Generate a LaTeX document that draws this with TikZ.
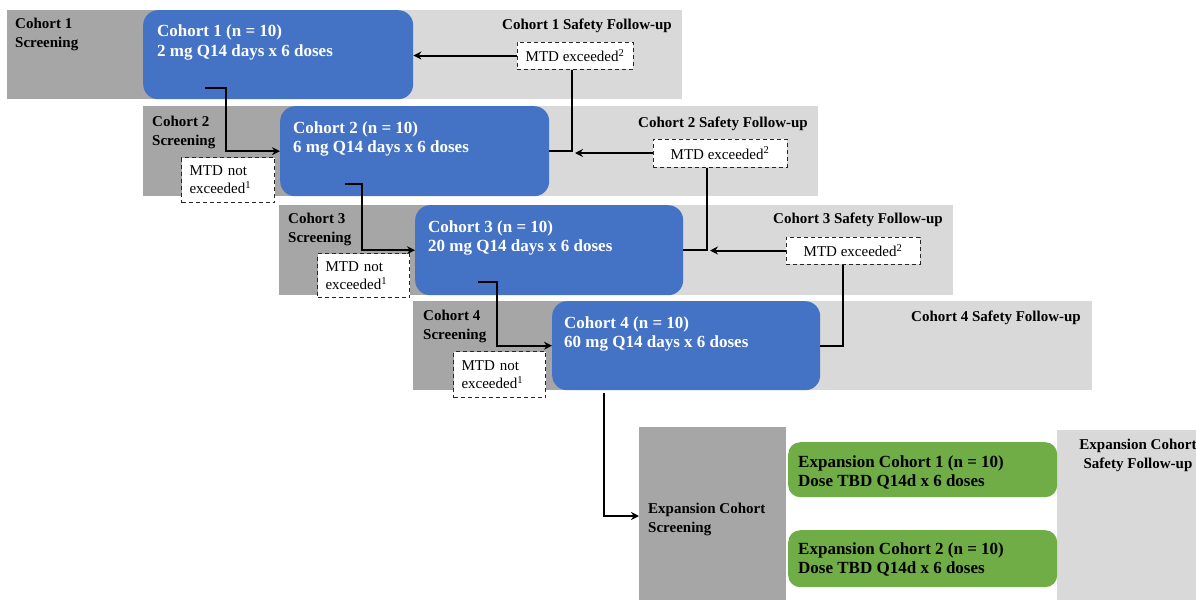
\documentclass[tikz,border=0pt]{standalone}
\usepackage{fontspec}
\setmainfont{Liberation Serif}
\usetikzlibrary{arrows.meta,calc}
\definecolor{cblue}{HTML}{4472C4}
\definecolor{cgreen}{HTML}{70AD47}
\definecolor{cdark}{HTML}{A6A6A6}
\definecolor{clight}{HTML}{D9D9D9}
\begin{document}
\begin{tikzpicture}[x=1pt,y=-1pt,
  darkfill/.style={fill=cdark,draw=none},
  lightfill/.style={fill=clight,draw=none},
  panel/.style={draw=none,anchor=north west,inner sep=0pt},
  bluebox/.style={panel,fill=cblue,rounded corners=15pt},
  greenbox/.style={panel,fill=cgreen,rounded corners=12pt},
  boxtxt/.style={anchor=north west,inner sep=0pt,align=left,font=\fontsize{17}{19.5}\selectfont\bfseries},
  lbl/.style={inner sep=0pt,font=\fontsize{15}{18.5}\selectfont\bfseries},
  mtd/.style={draw=black!85,line width=1pt,dash pattern=on 4pt off 3pt,fill=white,inner sep=0pt,font=\fontsize{15}{18}\selectfont},
  mtdn/.style={mtd,anchor=north west,align=left,inner xsep=8pt},
  wire/.style={line width=2pt},
  conn/.style={line width=2pt,-{Stealth[length=8pt,width=8pt]}}
]
\useasboundingbox (0,0) rectangle (1196,600);
% bands
\fill[darkfill] (7,10) rectangle (278,99);
\fill[lightfill] (278,10) rectangle (682,99);
\fill[darkfill] (143,106) rectangle (414,196);
\fill[lightfill] (414,106) rectangle (818,196);
\fill[darkfill] (279,205) rectangle (549,295);
\fill[lightfill] (549,205) rectangle (953,295);
\fill[darkfill] (413,301) rectangle (686,390);
\fill[lightfill] (686,301) rectangle (1092,390);
\node[panel,fill=cdark,minimum width=147pt,minimum height=173pt] (es) at (639,427) {};
\node[panel,fill=clight,minimum width=139pt,minimum height=170pt] (ef) at (1057,430) {};

% blue boxes
\node[bluebox,minimum width=270pt,minimum height=89pt] (b1) at (143,10) {};
\node[bluebox,minimum width=269pt,minimum height=90pt] (b2) at (280,106) {};
\node[bluebox,minimum width=268pt,minimum height=90pt] (b3) at (415,205) {};
\node[bluebox,minimum width=268pt,minimum height=89pt] (b4) at (552,301) {};
\node[boxtxt,text=white] (t1) at ($(b1.north west)+(14,15)$) {Cohort 1 (n = 10)\\2 mg Q14 days x 6 doses};
\node[boxtxt,text=white] (t2) at ($(b2.north west)+(13,15)$) {Cohort 2 (n = 10)\\6 mg Q14 days x 6 doses};
\node[boxtxt,text=white] (t3) at ($(b3.north west)+(13,15)$) {Cohort 3 (n = 10)\\20 mg Q14 days x 6 doses};
\node[boxtxt,text=white] (t4) at ($(b4.north west)+(12,15)$) {Cohort 4 (n = 10)\\60 mg Q14 days x 6 doses};

% green boxes
\node[greenbox,minimum width=269pt,minimum height=55pt] (g1) at (788,442) {};
\node[greenbox,minimum width=269pt,minimum height=57pt] (g2) at (788,530) {};
\node[boxtxt] (gt1) at ($(g1.north west)+(10,13)$) {Expansion Cohort 1 (n = 10)\\Dose TBD Q14d x 6 doses};
\node[boxtxt] (gt2) at ($(g2.north west)+(10,12)$) {Expansion Cohort 2 (n = 10)\\Dose TBD Q14d x 6 doses};

% screening labels
\node[lbl,anchor=north west,align=left] (s1) at (15,18) {Cohort 1\\Screening};
\node[lbl,anchor=north west,align=left] (s2) at (152,116) {Cohort 2\\Screening};
\node[lbl,anchor=north west,align=left] (s3) at (288,213) {Cohort 3\\Screening};
\node[lbl,anchor=north west,align=left] (s4) at (423,310) {Cohort 4\\Screening};
\node[lbl,anchor=north west,align=left] (s5) at (648,503) {Expansion Cohort\\Screening};

% safety labels
\node[lbl,anchor=base east] (f1) at (672,29) {Cohort 1 Safety Follow-up};
\node[lbl,anchor=base east] (f2) at (808,127) {Cohort 2 Safety Follow-up};
\node[lbl,anchor=base east] (f3) at (943,223) {Cohort 3 Safety Follow-up};
\node[lbl,anchor=base east] (f4) at (1081,321) {Cohort 4 Safety Follow-up};
\node[lbl,anchor=north,align=center] (f5) at (1138,439) {Expansion Cohort\\Safety Follow-up};

% MTD exceeded boxes
\node[mtd,minimum width=116pt,minimum height=27pt] (m1) at (575,55.5) {MTD exceeded\textsuperscript{2}};
\node[mtd,minimum width=134pt,minimum height=28pt] (m2) at (720,153) {MTD exceeded\textsuperscript{2}};
\node[mtd,minimum width=134pt,minimum height=27pt] (m3) at (853,250.5) {MTD exceeded\textsuperscript{2}};

% connectors (feedback)
\coordinate (v1) at (572,0);
\coordinate (v2) at (707,0);
\coordinate (v3) at (843,0);
\draw[conn] (m1.west) -- (m1.west -| b1.east);
\draw[wire] (m1.south -| v1) -- (v1 |- b2.east) -- (b2.east);
\draw[conn] (m2.west) -- ($(v1 |- m2.west)+(3,0)$);
\draw[wire] (m2.south -| v2) -- (v2 |- b3.east) -- (b3.east);
\draw[conn] (m3.west) -- ($(v2 |- m3.west)+(3,0)$);
\draw[wire] (m3.south -| v3) -- (v3 |- b4.east) -- (b4.east);

% connectors (escalation)
\coordinate (d1) at (205,88);
\coordinate (k1) at (226,88);
\draw[conn] (d1) -- (k1) -- (k1 |- b2.west) -- (b2.west);
\coordinate (d2) at (345,184);
\coordinate (k2) at (362,184);
\draw[conn] (d2) -- (k2) -- (k2 |- b3.west) -- (b3.west);
\coordinate (d3) at (478,282);
\coordinate (k3) at (497,282);
\draw[conn] (d3) -- (k3) -- (k3 |- b4.west) -- (b4.west);
\coordinate (d4) at (604,393);
\coordinate (k4) at (604,516);
\draw[conn] (d4) -- (k4) -- (k4 -| es.west);

% MTD not exceeded boxes
\node[mtdn,minimum width=93pt,minimum height=45pt,text width=77pt] (n2) at (181,157) {MTD not\\exceeded\textsuperscript{1}};
\node[mtdn,minimum width=92pt,minimum height=44pt,text width=76pt] (n3) at (317,253) {MTD not\\exceeded\textsuperscript{1}};
\node[mtdn,minimum width=92pt,minimum height=46pt,text width=76pt] (n4) at (453,351) {MTD not\\exceeded\textsuperscript{1}};
\end{tikzpicture}
\end{document}
